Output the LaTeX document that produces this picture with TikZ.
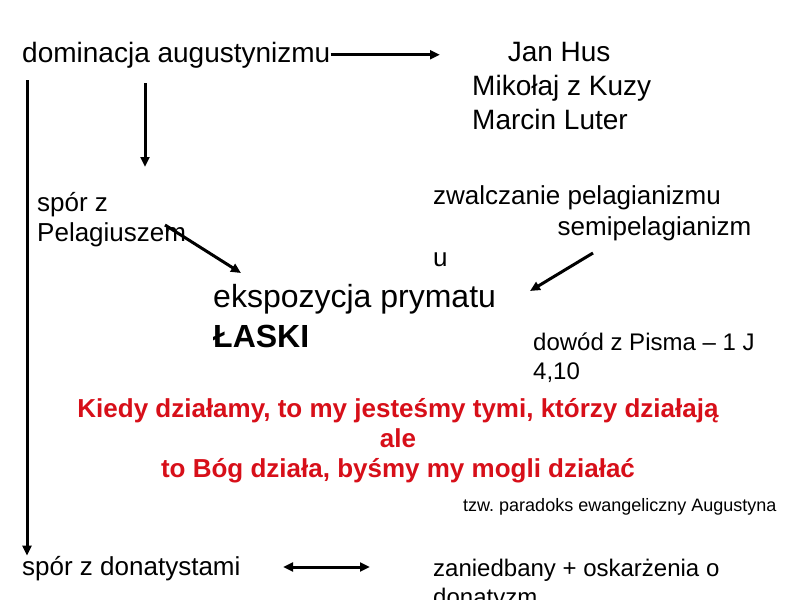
\documentclass[tikz,border=0pt]{standalone}
\usepackage{fontspec}
\setmainfont{Liberation Sans}
\usepackage{xcolor}
\usetikzlibrary{arrows.meta,positioning}
\definecolor{czerwony}{RGB}{215,15,25}

\begin{document}
\begin{tikzpicture}[
        x=0.9pt, y=-0.9pt,
        every node/.style={inner sep=0pt, anchor=base west, align=left},
        duzy/.style={font=\fontsize{25.2}{30.2}\selectfont},
        sredni/.style={font=\fontsize{23.4}{26.5}\selectfont},
        maly/.style={font=\fontsize{21.6}{26}\selectfont},
        haslo/.style={anchor=base, align=center, text=czerwony,
          font=\fontsize{23.4}{27}\selectfont\bfseries},
        strz/.style={line width=2.7pt, -{Triangle[length=9pt,width=8pt]}},
        dwustrz/.style={line width=2.7pt, {Triangle[length=9pt,width=8pt]}-{Triangle[length=9pt,width=8pt]}}
      ]
      \useasboundingbox (0,0) rectangle (800,600);

      % wezly ustawione na linii bazowej ostatniego wiersza
      \node[duzy] (dominacja) at (22,62) {dominacja augustynizmu};
      \node[duzy] (reformatorzy) at (472,129) {\hspace*{32pt}Jan Hus\\Mikołaj z Kuzy\\Marcin Luter};
      \node[sredni] (pelagiusz) at (37,241) {spór z\\Pelagiuszem};
      \node[font=\fontsize{23.4}{27.9}\selectfont] (zwalczanie) at (433,266) {zwalczanie pelagianizmu\\\hspace*{112pt}semipelagianizm\\u};
      \node[font=\fontsize{28.8}{36}\selectfont] (ekspozycja) at (213,347) {ekspozycja prymatu\\\textbf{ŁASKI}};
      \node[maly] (dowod) at (533,379) {dowód z Pisma – 1 J\\4,10};
      \node[haslo] (paradoks) at (398,477) {Kiedy działamy, to my jesteśmy tymi, którzy działają\\ale\\to Bóg działa, byśmy my mogli działać};
      \node[font=\fontsize{16.2}{19}\selectfont] (tzw) at (463,511) {tzw.\ paradoks ewangeliczny Augustyna};
      \node[sredni] (donatysci) at (22,575) {spór z donatystami};
      \node[maly] (zaniedbany) at (433,605) {zaniedbany + oskarżenia o\\donatyzm};

      % konce strzalek
      \coordinate (hus) at (440,55);
      \coordinate (lewa) at (27,80);
      \coordinate (pel1) at (145,83);
      \coordinate (pel2) at (145,167);
      \coordinate (pel3) at (165,225);
      \coordinate (lask1) at (241,273);
      \coordinate (zw1) at (593,253);
      \coordinate (lask2) at (530,291);
      \coordinate (don1) at (283,567);
      \coordinate (don2) at (370,567);

      \draw[strz] (dominacja.east) -- (dominacja.east -| hus);
      \draw[strz] (lewa) -- (lewa |- donatysci.north);
      \draw[strz] (pel1) -- (pel2);
      \draw[strz] (pel3) -- (lask1);
      \draw[strz] (zw1) -- (lask2);
      \draw[dwustrz] (don1) -- (don2);

    \end{tikzpicture}
\end{document}
